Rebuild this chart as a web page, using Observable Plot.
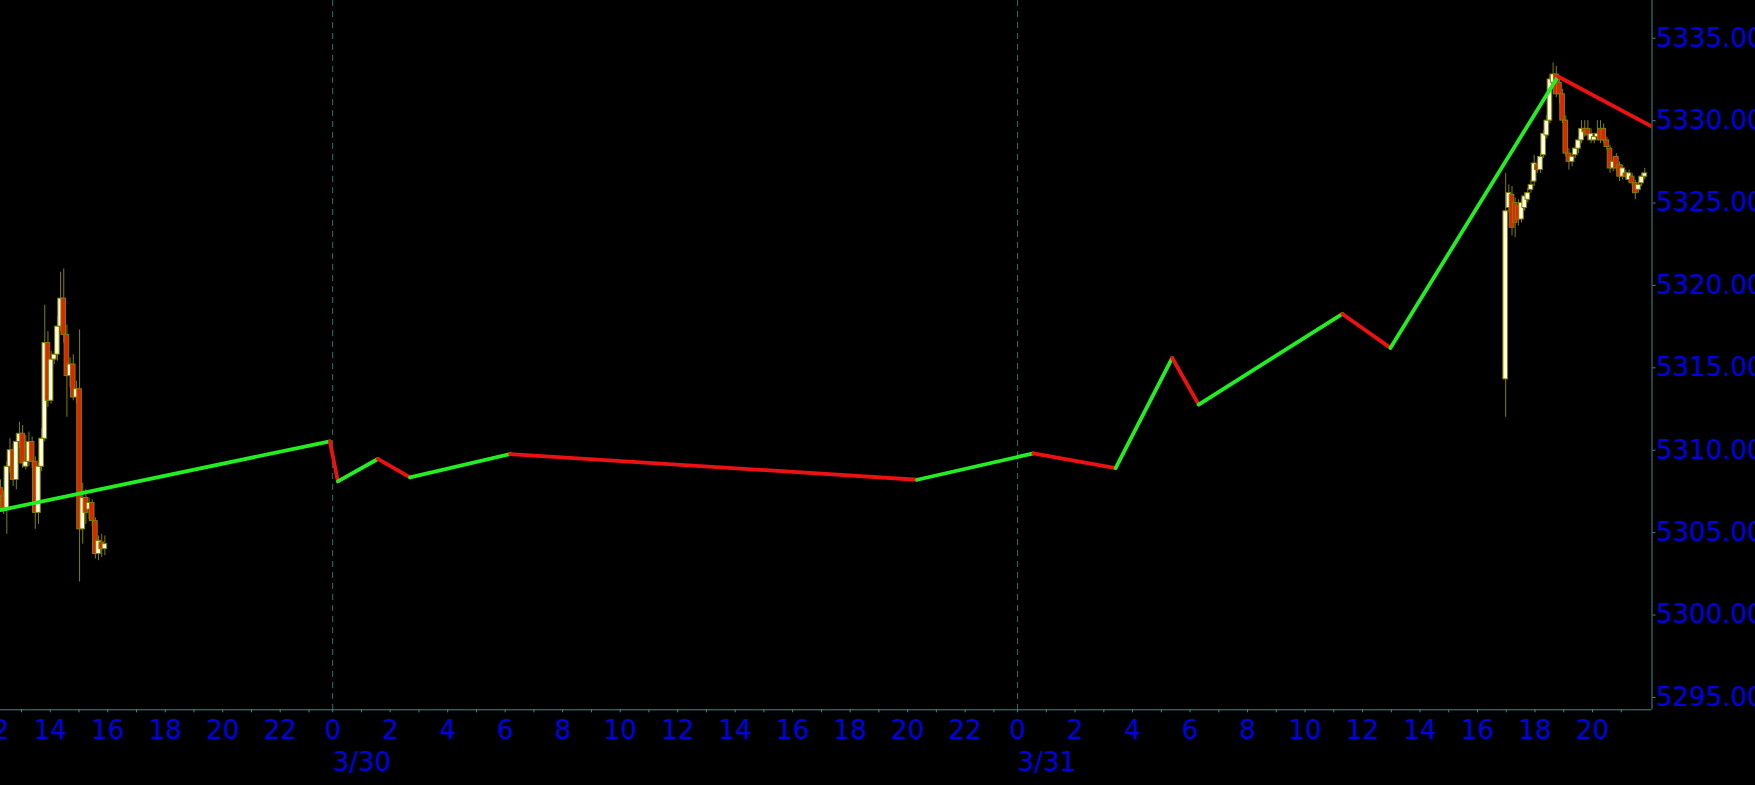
<!DOCTYPE html>
<html><head><meta charset="utf-8">
<script src="https://cdn.jsdelivr.net/npm/d3@7"></script>
<script src="https://cdn.jsdelivr.net/npm/@observablehq/plot@0.6"></script>
<style>
html,body{margin:0;padding:0;background:#000;overflow:hidden;}
#chart svg{display:block;}
</style></head><body><div id="chart"></div>
<script>
// ---------- data (hours are measured from 3/30 00:00) ----------
const dayLabels = ["3/30", "3/31"];
const dayStartHours = [0, 24];
const priceTicks = [5295, 5300, 5305, 5310, 5315, 5320, 5325, 5330, 5335];
const hourTicks = d3.range(-12, 46);

const zigzagHours  = [-11.73, -0.12, 0.18, 1.57, 2.69, 6.17, 20.33, 24.55, 27.41, 29.38, 30.30, 35.30, 36.97, 42.80, 46.07];
const zigzagPrices = [5306.37, 5310.54, 5308.11, 5309.47, 5308.35, 5309.77, 5308.21, 5309.81, 5308.92, 5315.60, 5312.77, 5318.27, 5316.21, 5332.68, 5329.64];

const barHours = 0.11;
const leftStartHour = -11.73;
// [open, high, low, close]
const leftCandles = [
  [5307.7, 5308.2, 5306.3, 5307.2],
  [5307.2, 5307.5, 5306.1, 5306.5],
  [5306.5, 5309.3, 5304.9, 5309.0],
  [5309.0, 5310.7, 5308.6, 5310.0],
  [5310.0, 5310.4, 5307.8, 5308.2],
  [5308.2, 5311.0, 5307.6, 5310.5],
  [5310.5, 5311.7, 5310.1, 5311.0],
  [5311.0, 5311.5, 5308.9, 5309.2],
  [5309.0, 5310.9, 5308.8, 5309.3],
  [5309.3, 5311.1, 5309.0, 5310.5],
  [5310.5, 5310.8, 5308.9, 5309.3],
  [5309.3, 5309.6, 5305.2, 5306.2],
  [5306.2, 5309.2, 5305.5, 5309.0],
  [5309.0, 5311.3, 5308.7, 5310.7],
  [5310.7, 5318.8, 5310.5, 5316.5],
  [5316.5, 5317.2, 5312.6, 5313.0],
  [5313.0, 5316.0, 5312.8, 5315.5],
  [5315.5, 5316.0, 5315.2, 5315.8],
  [5315.8, 5318.1, 5315.4, 5317.5],
  [5317.5, 5320.8, 5317.2, 5319.2],
  [5319.2, 5321.0, 5316.5, 5317.0],
  [5317.0, 5317.6, 5312.0, 5314.5],
  [5314.5, 5315.6, 5313.8, 5315.2],
  [5315.2, 5315.8, 5313.0, 5313.2],
  [5313.2, 5314.2, 5312.8, 5313.7],
  [5313.7, 5317.3, 5302.0, 5305.2],
  [5305.2, 5308.0, 5304.3, 5307.1],
  [5307.1, 5307.6, 5305.5, 5306.2],
  [5306.4, 5307.1, 5305.8, 5306.8],
  [5306.8, 5307.0, 5305.4, 5305.7],
  [5305.7, 5305.9, 5303.4, 5303.7],
  [5303.7, 5304.8, 5303.3, 5304.5],
  [5304.4, 5304.9, 5303.5, 5304.0],
  [5304.0, 5304.8, 5303.6, 5304.3]
];
const rightStartHour = 40.98;
const rightCandles = [
  [5314.3, 5326.8, 5312.0, 5324.5],
  [5324.7, 5326.1, 5324.4, 5325.6],
  [5325.5, 5326.0, 5323.0, 5323.5],
  [5325.0, 5325.3, 5322.9, 5323.8],
  [5324.8, 5325.2, 5323.6, 5324.0],
  [5324.0, 5325.2, 5323.8, 5325.0],
  [5324.7, 5325.6, 5324.5, 5325.4],
  [5325.2, 5325.9, 5325.0, 5325.6],
  [5325.8, 5326.4, 5325.6, 5326.1],
  [5326.3, 5327.9, 5326.0, 5327.4],
  [5327.3, 5327.6, 5326.8, 5327.0],
  [5327.0, 5328.0, 5326.8, 5327.8],
  [5327.9, 5329.4, 5327.7, 5329.2],
  [5329.1, 5330.3, 5328.9, 5330.0],
  [5330.0, 5332.8, 5329.8, 5332.5],
  [5332.3, 5333.5, 5332.0, 5332.8],
  [5332.8, 5333.3, 5331.4, 5331.6],
  [5332.3, 5332.6, 5331.0, 5331.6],
  [5331.6, 5331.9, 5329.8, 5330.0],
  [5330.0, 5330.3, 5327.8, 5328.0],
  [5328.0, 5328.3, 5327.0, 5327.5],
  [5327.5, 5328.0, 5327.2, 5327.8],
  [5327.9, 5328.5, 5327.7, 5328.3],
  [5328.3, 5329.0, 5328.0, 5328.8],
  [5328.8, 5330.0, 5328.6, 5329.5],
  [5329.5, 5330.0, 5329.0, 5329.3],
  [5329.5, 5330.0, 5328.8, 5329.1],
  [5328.8, 5329.5, 5328.6, 5329.2],
  [5328.8, 5329.2, 5328.6, 5329.0],
  [5329.0, 5330.0, 5328.8, 5329.2],
  [5329.5, 5330.0, 5328.6, 5328.8],
  [5329.5, 5329.8, 5328.6, 5328.8],
  [5328.8, 5329.0, 5328.2, 5328.4],
  [5328.3, 5328.5, 5326.8, 5327.1],
  [5327.1, 5327.8, 5326.9, 5327.5],
  [5327.8, 5328.0, 5326.9, 5327.1],
  [5327.3, 5327.5, 5326.3, 5326.6],
  [5326.6, 5327.3, 5326.4, 5327.1],
  [5326.8, 5327.0, 5326.4, 5326.6],
  [5326.4, 5327.0, 5326.2, 5326.8],
  [5326.6, 5326.8, 5326.0, 5326.2],
  [5326.2, 5326.4, 5325.2, 5325.6],
  [5325.8, 5326.3, 5325.6, 5326.1],
  [5326.2, 5326.8, 5326.0, 5326.6],
  [5326.6, 5327.1, 5326.4, 5326.8]
];

// ---------- styling ----------
const W = 1755, H = 785;
const textColor = "#0000e6";
const axisColor = "#3f8c86";
const dashColor = "#2f706b";
const upLine = "#22ee22", downLine = "#ee1111";
const upFill = "#ffffe0", downFill = "#e62100", olive = "#808000";
const font = "DejaVu Sans";
const fontSize = 26;

// ---------- derived tables ----------
const toCandles = (arr, start) => arr.map(([o, h, l, c], i) => ({t: start + i * barHours, o, h, l, c}));
const candles = [...toCandles(leftCandles, leftStartHour), ...toCandles(rightCandles, rightStartHour)];
const segments = zigzagHours.slice(1).map((t, i) => ({
  x1: zigzagHours[i], y1: zigzagPrices[i], x2: t, y2: zigzagPrices[i + 1],
  color: zigzagPrices[i + 1] >= zigzagPrices[i] ? upLine : downLine
}));
const days = dayLabels.map((label, i) => ({label, h: dayStartHours[i]}));
const hourLabel = h => { const hh = ((h % 24) + 24) % 24; return hh % 2 === 0 ? String(hh) : ""; };

const xDomain = [-11.73, -1, 0, 23, 24, 46.07];
const xRange = [0, 308.5, 332.2, 993.4, 1017.1, 1651.5];
const yDomain = [5294.25, 5337.29];
const bodyHalf = 0.08;

const chart = Plot.plot({
  width: W, height: H,
  marginLeft: 0, marginRight: W - 1651.5, marginTop: 0, marginBottom: H - 709.3,
  style: {background: "#000", fontFamily: font, fontSize: fontSize + "px", color: textColor, overflow: "hidden"},
  x: {type: "linear", domain: xDomain, range: xRange},
  y: {type: "linear", domain: yDomain, range: [709.3, 0]},
  color: {type: "identity"},
  marks: [
    Plot.ruleX(dayStartHours, {stroke: dashColor, strokeWidth: 1, strokeDasharray: "6,5"}),
    Plot.ruleX(candles, {x: "t", y1: "l", y2: "h", stroke: olive, strokeWidth: 1, clip: true}),
    Plot.rect(candles, {
      x1: d => d.t - bodyHalf, x2: d => d.t + bodyHalf,
      y1: d => Math.min(d.o, d.c), y2: d => Math.max(d.o, d.c),
      fill: d => d.c >= d.o ? upFill : downFill,
      stroke: olive, strokeWidth: 1, clip: true
    }),
    Plot.link(segments, {x1: "x1", y1: "y1", x2: "x2", y2: "y2", stroke: "color", strokeWidth: 3.8, strokeLinecap: "round", clip: true}),
    Plot.ruleX([xDomain[xDomain.length - 1]], {stroke: axisColor, strokeWidth: 1}),
    Plot.ruleY([yDomain[0]], {stroke: axisColor, strokeWidth: 1}),
    Plot.axisY({anchor: "right", ticks: priceTicks, tickFormat: d3.format(".3f"), tickSize: 3, tickPadding: 1,
      stroke: axisColor, fill: textColor, fontSize, label: null}),
    Plot.axisX({anchor: "bottom", ticks: hourTicks, tickFormat: hourLabel, tickSize: 3, tickPadding: 8,
      stroke: axisColor, fill: textColor, fontSize, label: null}),
    Plot.text(days, {x: "h", text: "label", frameAnchor: "bottom", dy: 61, textAnchor: "start",
      fill: textColor, fontSize})
  ]
});
document.getElementById("chart").appendChild(chart);
</script>
</body></html>
